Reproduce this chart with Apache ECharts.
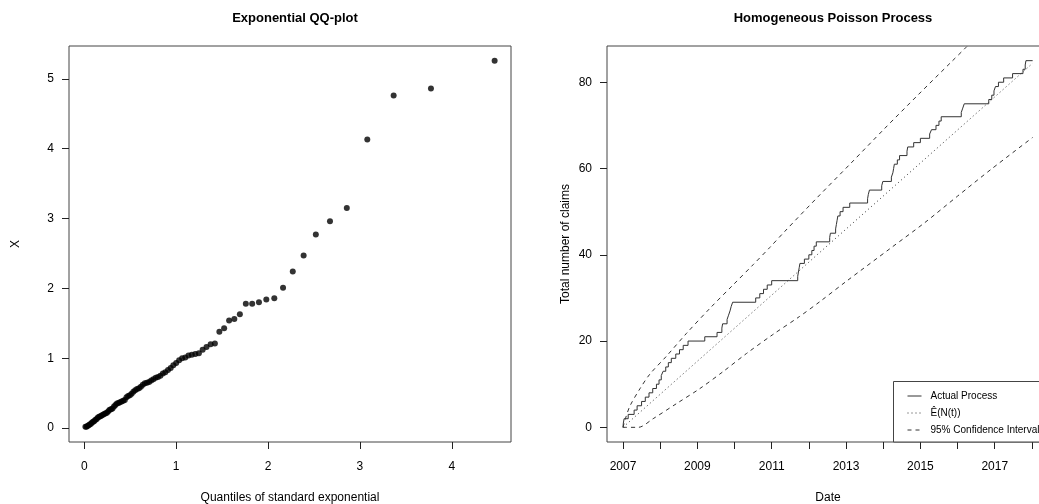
<!DOCTYPE html>
<html><head><meta charset="utf-8">
<script src="https://cdn.jsdelivr.net/npm/echarts@6/dist/echarts.min.js"></script>
<style>html,body{margin:0;padding:0;background:#fff}#c{width:1039px;height:504px}</style>
</head><body><div id="c"></div>
<script>
// ---- Left panel: exponential QQ-plot ----
const qqTheoretical = [
  0.012, 0.023, 0.035, 0.047, 0.059, 0.072, 0.084, 0.097, 0.109, 0.122,
  0.135, 0.148, 0.162, 0.175, 0.189, 0.203, 0.217, 0.232, 0.246, 0.261,
  0.276, 0.292, 0.307, 0.323, 0.339, 0.355, 0.372, 0.388, 0.406, 0.423,
  0.441, 0.459, 0.477, 0.496, 0.515, 0.534, 0.554, 0.574, 0.595, 0.616,
  0.637, 0.659, 0.682, 0.705, 0.728, 0.752, 0.777, 0.802, 0.828, 0.855,
  0.882, 0.911, 0.940, 0.969, 1.000, 1.032, 1.065, 1.099, 1.134, 1.170,
  1.208, 1.247, 1.288, 1.330, 1.375, 1.421, 1.470, 1.522, 1.576, 1.633,
  1.693, 1.758, 1.827, 1.901, 1.981, 2.068, 2.163, 2.269, 2.387, 2.520,
  2.674, 2.857, 3.080, 3.367, 3.773, 4.466
];
const qqSample = [
  0.02, 0.02, 0.03, 0.04, 0.05, 0.06, 0.08, 0.09, 0.10, 0.12,
  0.13, 0.15, 0.16, 0.17, 0.18, 0.19, 0.20, 0.21, 0.22, 0.24,
  0.26, 0.27, 0.28, 0.31, 0.33, 0.35, 0.36, 0.37, 0.38, 0.39,
  0.40, 0.44, 0.46, 0.47, 0.49, 0.52, 0.54, 0.56, 0.57, 0.59,
  0.62, 0.64, 0.65, 0.66, 0.68, 0.70, 0.72, 0.73, 0.75, 0.78,
  0.80, 0.83, 0.86, 0.90, 0.93, 0.97, 1.00, 1.01, 1.04, 1.05,
  1.06, 1.07, 1.12, 1.16, 1.20, 1.21, 1.38, 1.43, 1.54, 1.56,
  1.63, 1.78, 1.78, 1.80, 1.84, 1.86, 2.01, 2.24, 2.47, 2.77,
  2.96, 3.15, 4.13, 4.76, 4.86, 5.26
];
const qqXTicks = [0, 1, 2, 3, 4];
const qqYTicks = [0, 1, 2, 3, 4, 5];

// ---- Right panel: homogeneous Poisson process ----
const processDates = [
  2007.00,
  2007.01, 2007.03, 2007.14, 2007.30, 2007.38, 2007.50, 2007.60, 2007.70, 2007.80, 2007.90,
  2007.97, 2008.03, 2008.08, 2008.15, 2008.22, 2008.30, 2008.42, 2008.52, 2008.62, 2008.75,
  2009.20, 2009.53, 2009.66, 2009.68, 2009.80, 2009.84, 2009.88, 2009.91, 2009.95, 2010.57,
  2010.68, 2010.78, 2010.88, 2011.00, 2011.70, 2011.72, 2011.74, 2011.76, 2011.88, 2012.00,
  2012.08, 2012.14, 2012.20, 2012.56, 2012.58, 2012.72, 2012.74, 2012.76, 2012.78, 2012.84,
  2012.92, 2013.10, 2013.58, 2013.60, 2013.63, 2013.96, 2013.99, 2014.22, 2014.26, 2014.28,
  2014.30, 2014.38, 2014.44, 2014.64, 2014.66, 2014.82, 2015.00, 2015.25, 2015.30, 2015.42,
  2015.50, 2015.56, 2016.10, 2016.14, 2016.18, 2016.84, 2016.92, 2016.98, 2017.02, 2017.10,
  2017.24, 2017.48, 2017.76, 2017.82, 2017.84,
  2018.02
];
const processCounts = [
  0,
  1, 2, 3, 4, 5, 6, 7, 8, 9, 10,
  11, 12, 13, 14, 15, 16, 17, 18, 19, 20,
  21, 22, 23, 24, 25, 26, 27, 28, 29, 30,
  31, 32, 33, 34, 35, 36, 37, 38, 39, 40,
  41, 42, 43, 44, 45, 46, 47, 48, 49, 50,
  51, 52, 53, 54, 55, 56, 57, 58, 59, 60,
  61, 62, 63, 64, 65, 66, 67, 68, 69, 70,
  71, 72, 73, 74, 75, 76, 77, 78, 79, 80,
  81, 82, 83, 84, 85,
  85
];
const expectedDates = [2007.00, 2018.02];
const expectedCounts = [0, 84.4];
const upperDates = [2007.00, 2007.08, 2007.19, 2007.46, 2007.72, 2008.17, 2008.71, 2009.34, 2009.96, 2010.50, 2010.95, 2011.35, 2012.24, 2013.14, 2014.03, 2014.93, 2015.82, 2016.23, 2017.00, 2018.02];
const upperCounts = [0, 2.4, 5.0, 9.0, 12.3, 16.5, 21.8, 27.6, 33.0, 37.7, 41.7, 45.4, 53.4, 61.3, 69.2, 77.0, 84.6, 88.1, 94.8, 103.5];
const lowerDates = [2007.00, 2007.41, 2007.81, 2008.44, 2009.07, 2009.69, 2010.32, 2011.03, 2011.75, 2012.29, 2013.00, 2014.21, 2015.11, 2016.00, 2016.90, 2018.02];
const lowerCounts = [0, 0, 2.0, 5.5, 9.0, 12.9, 17.1, 21.5, 25.7, 29.1, 33.8, 41.6, 47.4, 53.6, 59.8, 67.2];
const yearTicks = [2007, 2008, 2009, 2010, 2011, 2012, 2013, 2014, 2015, 2016, 2017, 2018];
const yearLabels = [2007, 2009, 2011, 2013, 2015, 2017];
const claimTicks = [0, 20, 40, 60, 80];

const zip = (a, b) => a.map((v, i) => [v, b[i]]);
const FONT = 'Liberation Sans, Arial, Helvetica, sans-serif';
const INK = '#222';

function axisCommon(ticks, labels, isY, fmt) {
  return {
    type: 'value',
    splitLine: { show: false },
    axisLine: { show: false, onZero: false },
    axisTick: { show: true, inside: false, length: 7, customValues: ticks, lineStyle: { color: INK, width: 1 } },
    axisLabel: { customValues: labels, color: '#000', fontSize: 12, fontFamily: FONT, margin: isY ? 15 : 19, formatter: fmt },
    nameTextStyle: { color: '#000', fontSize: 12, fontFamily: FONT },
    nameLocation: 'middle'
  };
}

const chart = echarts.init(document.getElementById('c'), null, { renderer: 'canvas' });
chart.setOption({
  animation: false,
  backgroundColor: '#fff',
  textStyle: { fontFamily: FONT },
  title: [
    { text: 'Exponential QQ-plot', left: 290, top: 7, textAlign: 'center',
      textStyle: { fontSize: 13, fontWeight: 'bold', color: '#000', fontFamily: FONT } },
    { text: 'Homogeneous Poisson Process', left: 828, top: 7, textAlign: 'center',
      textStyle: { fontSize: 13, fontWeight: 'bold', color: '#000', fontFamily: FONT } }
  ],
  grid: [
    { left: 69, top: 46, width: 442, height: 396, show: true, borderColor: '#444', borderWidth: 1,
      backgroundColor: 'transparent', outerBoundsMode: 'none', containLabel: false },
    { left: 607, top: 46, width: 442, height: 396, show: true, borderColor: '#444', borderWidth: 1,
      backgroundColor: 'transparent', outerBoundsMode: 'none', containLabel: false }
  ],
  xAxis: [
    Object.assign(axisCommon(qqXTicks, qqXTicks, false, v => String(v)), {
      gridIndex: 0, min: -0.1666, max: 4.6442,
      name: 'Quantiles of standard exponential', nameGap: 50
    }),
    Object.assign(axisCommon(yearTicks, yearLabels, false, v => String(Math.round(v))), {
      gridIndex: 1, min: 2006.57, max: 2018.46,
      name: 'Date', nameGap: 50
    })
  ],
  yAxis: [
    Object.assign(axisCommon(qqYTicks, qqYTicks, true, v => String(v)), {
      gridIndex: 0, min: -0.2, max: 5.47,
      name: 'X', nameGap: 47, nameRotate: 90
    }),
    Object.assign(axisCommon(claimTicks, claimTicks, true, v => String(v)), {
      gridIndex: 1, min: -3.4, max: 88.4,
      name: 'Total number of claims', nameGap: 35, nameRotate: 90
    })
  ],
  graphic: [
    { type: 'rect', z: 3, silent: true,
      shape: { x: 893.5, y: 381.5, width: 200, height: 60.5 },
      style: { fill: '#fff', stroke: '#444', lineWidth: 1 } }
  ],
  legend: {
    orient: 'vertical', left: 893, top: 381,
    padding: [10, 5, 6, 14],
    itemWidth: 14, itemHeight: 10, itemGap: 7,
    textStyle: { fontSize: 10, color: '#000', fontFamily: FONT, padding: [0, 0, 0, 4] },
    itemStyle: { opacity: 0 },
    selectedMode: false,
    data: [
      { name: 'Actual Process', lineStyle: { color: '#333', width: 1, type: 'solid' } },
      { name: 'Ê(N(t))', lineStyle: { color: '#333', width: 1, type: [1, 3] } },
      { name: '95% Confidence Interval', lineStyle: { color: '#333', width: 1, type: [4, 4] } }
    ]
  },
  series: [
    { type: 'scatter', xAxisIndex: 0, yAxisIndex: 0, data: zip(qqTheoretical, qqSample),
      symbol: 'circle', symbolSize: 6, itemStyle: { color: '#000' }, silent: true },
    { name: 'Actual Process', type: 'line', xAxisIndex: 1, yAxisIndex: 1, step: 'end',
      data: zip(processDates, processCounts), symbol: 'none', clip: true,
      lineStyle: { color: '#333', width: 1 }, silent: true },
    { name: 'Ê(N(t))', type: 'line', xAxisIndex: 1, yAxisIndex: 1,
      data: zip(expectedDates, expectedCounts), symbol: 'none', clip: true,
      lineStyle: { color: '#333', width: 1, type: [1, 3] }, silent: true },
    { name: '95% Confidence Interval', type: 'line', xAxisIndex: 1, yAxisIndex: 1, smooth: 0.3,
      data: zip(upperDates, upperCounts), symbol: 'none', clip: true,
      lineStyle: { color: '#333', width: 1, type: [4, 4] }, silent: true },
    { name: '95% Confidence Interval', type: 'line', xAxisIndex: 1, yAxisIndex: 1, smooth: 0.3,
      data: zip(lowerDates, lowerCounts), symbol: 'none', clip: true,
      lineStyle: { color: '#333', width: 1, type: [4, 4] }, silent: true }
  ]
});
</script>
</body></html>
